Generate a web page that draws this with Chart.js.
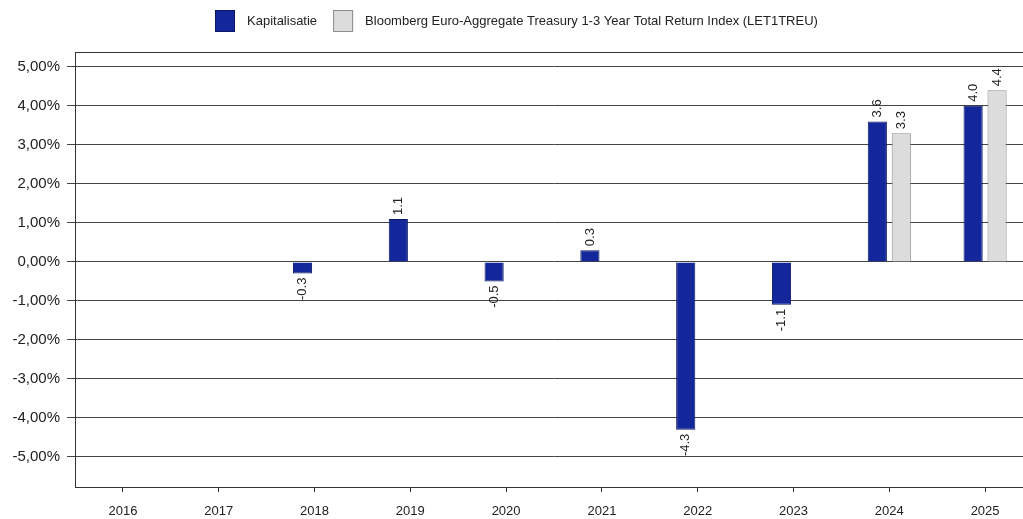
<!DOCTYPE html>
<html>
<head>
<meta charset="utf-8">
<script src="https://cdn.jsdelivr.net/npm/chart.js@4/dist/chart.umd.min.js"></script>
<style>
html,body{margin:0;padding:0;background:#fff;overflow:hidden;}
#wrap{width:1033px;height:519px;}
</style>
</head>
<body>
<div id="wrap"><canvas id="c" width="1033" height="519"></canvas></div>
<script>
const categories = ['2016','2017','2018','2019','2020','2021','2022','2023','2024','2025'];
const kapitalisatie = [null, null, -0.3, 1.1, -0.5, 0.3, -4.3, -1.1, 3.6, 4.0];
const benchmark = [null, null, null, null, null, null, null, null, 3.3, 4.4];
const yTickValues = [-5, -4, -3, -2, -1, 0, 1, 2, 3, 4, 5];
const seriesNames = ['Kapitalisatie', 'Bloomberg Euro-Aggregate Treasury 1-3 Year Total Return Index (LET1TREU)'];

const FONT = '"Liberation Sans", Arial, sans-serif';

const labelPlugin = {
  id: 'barLabels',
  afterDatasetsDraw(chart) {
    const ctx = chart.ctx;
    ctx.save();
    ctx.font = '13px ' + FONT;
    ctx.fillStyle = '#222';
    chart.data.datasets.forEach((ds, di) => {
      const meta = chart.getDatasetMeta(di);
      meta.data.forEach((bar, i) => {
        const v = ds.data[i];
        if (v === null || v === undefined) return;
        const txt = v.toFixed(1);
        ctx.save();
        ctx.translate(bar.x, bar.y);
        ctx.rotate(-Math.PI / 2);
        ctx.textBaseline = 'middle';
        if (v >= 0) { ctx.textAlign = 'left'; ctx.fillText(txt, 4, 0); }
        else { ctx.textAlign = 'right'; ctx.fillText(txt, -4, 0); }
        ctx.restore();
      });
    });
    ctx.restore();
  }
};

const framePlugin = {
  id: 'frame',
  afterDraw(chart) {
    const a = chart.chartArea, ctx = chart.ctx;
    ctx.save();
    ctx.strokeStyle = '#333';
    ctx.lineWidth = 1;
    ctx.strokeRect(Math.round(a.left) + 0.5, Math.round(a.top) + 0.5, a.right - a.left, a.bottom - a.top);
    ctx.restore();
  }
};

const legendPlugin = {
  id: 'customLegend',
  afterDraw(chart) {
    const ctx = chart.ctx;
    ctx.save();
    ctx.font = '13px ' + FONT;
    ctx.textBaseline = 'middle';
    ctx.textAlign = 'left';
    const boxW = 20, boxH = 22, gapText = 12, gapItem = 16, top = 10, cy = top + boxH / 2;
    const dsets = chart.data.datasets;
    let total = 0;
    dsets.forEach((ds, i) => { total += boxW + gapText + ctx.measureText(ds.label).width + (i < dsets.length - 1 ? gapItem : 0); });
    let x = Math.round((1033 - total) / 2);
    dsets.forEach(ds => {
      ctx.fillStyle = ds.backgroundColor;
      ctx.fillRect(x, top, boxW, boxH);
      ctx.strokeStyle = ds.borderColor;
      ctx.lineWidth = 1;
      ctx.strokeRect(x + 0.5, top + 0.5, boxW - 1, boxH - 1);
      x += boxW + gapText;
      ctx.fillStyle = '#222';
      ctx.fillText(ds.label, x, cy);
      x += ctx.measureText(ds.label).width + gapItem;
    });
    ctx.restore();
  }
};

new Chart(document.getElementById('c'), {
  type: 'bar',
  data: {
    labels: categories,
    datasets: [
      { label: seriesNames[0], data: kapitalisatie, backgroundColor: '#13279a', borderColor: '#0a1660', borderWidth: 1, categoryPercentage: 0.5, barPercentage: 0.8 },
      { label: seriesNames[1], data: benchmark, backgroundColor: '#dcdcdc', borderColor: '#8c8c8c', borderWidth: 1, categoryPercentage: 0.5, barPercentage: 0.8 }
    ]
  },
  options: {
    responsive: false,
    animation: false,
    layout: { padding: { top: 52, right: 0, left: 0, bottom: 0 } },
    plugins: {
      legend: { display: false },
      tooltip: { enabled: false }
    },
    scales: {
      x: {
        offset: true,
        grid: { display: true, drawOnChartArea: false, offset: false, drawTicks: true, tickLength: 5, color: '#333' },
        border: { display: true, color: '#333' },
        ticks: { font: { family: FONT, size: 13 }, color: '#222', padding: 12, maxRotation: 0 },
        afterFit(scale) { scale.height = 32; }
      },
      y: {
        min: -5.77,
        max: 5.38,
        afterBuildTicks(scale) { scale.ticks = yTickValues.map(v => ({ value: v })); },
        grid: { color: '#444', lineWidth: 1, tickLength: 8, drawTicks: true },
        border: { display: true, color: '#333' },
        ticks: { font: { family: FONT, size: 15 }, color: '#222', padding: 7,
          callback: v => v.toFixed(2).replace('.', ',') + '%' },
        afterFit(scale) { scale.width = 75; }
      }
    }
  },
  plugins: [labelPlugin, framePlugin, legendPlugin]
});
</script>
</body>
</html>
